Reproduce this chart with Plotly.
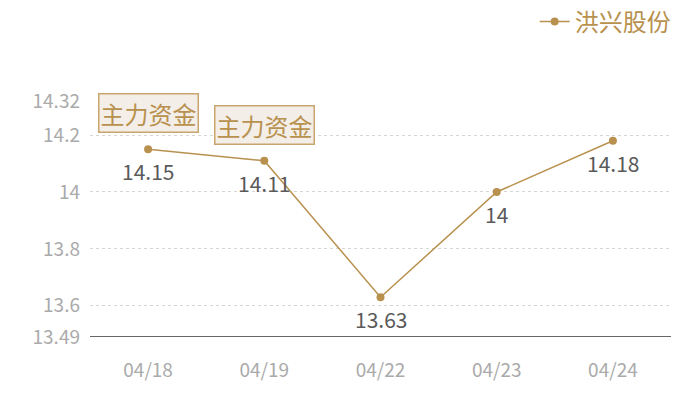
import plotly.graph_objects as go

dates = ["04/18", "04/19", "04/22", "04/23", "04/24"]
prices = [14.15, 14.11, 13.63, 14.00, 14.18]
price_labels = ["14.15", "14.11", "13.63", "14", "14.18"]
y_ticks = [13.49, 13.6, 13.8, 14.0, 14.2, 14.32]
y_tick_text = ["13.49", "13.6", "13.8", "14", "14.2", "14.32"]
flag_dates = ["04/18", "04/19"]
flag_prices = [14.15, 14.11]
flag_text = "主力资金"

gold = "#b8914f"
font = "Noto Sans CJK SC"

fig = go.Figure()
fig.add_trace(go.Scatter(
    x=dates, y=prices, name="洪兴股份",
    mode="lines+markers",
    line=dict(color=gold, width=1.5),
    marker=dict(color=gold, size=8),
))

# value labels under each point
for d, p, t in zip(dates, prices, price_labels):
    fig.add_annotation(x=d, y=p, text=t, showarrow=False, yshift=-22,
                       font=dict(color="#5a5a5a", size=21, family=font))

# "主力资金" flags
for d, p in zip(flag_dates, flag_prices):
    fig.add_annotation(
        x=d, y=p, text=flag_text, showarrow=False,
        yanchor="bottom", yshift=16,
        font=dict(color="#b8914f", size=24, family=font),
        bgcolor="#f3eee7", bordercolor="#c9a66e", borderwidth=1.5, borderpad=1,
    )

fig.update_layout(
    width=700, height=400,
    margin=dict(l=90, r=29, t=101, b=63, autoexpand=False),
    plot_bgcolor="white", paper_bgcolor="white",
    font=dict(family=font),
    showlegend=True,
    legend=dict(orientation="h", x=1.008, xanchor="right", y=1.43, yanchor="top",
                font=dict(color=gold, size=24, family=font),
                itemwidth=30, bgcolor="rgba(0,0,0,0)"),
    xaxis=dict(type="category", range=[-0.5, 4.5], showgrid=False, showline=False,
               zeroline=False, ticks="", ticklabelstandoff=20,
               tickfont=dict(color="#aaaaaa", size=19, family=font)),
    yaxis=dict(range=[13.49, 14.32], tickvals=y_ticks, ticktext=y_tick_text,
               showgrid=True, gridcolor="#d6d6d6", griddash="dot", gridwidth=1,
               zeroline=False, showline=False, ticks="", ticklabelstandoff=9,
               tickfont=dict(color="#aaaaaa", size=19, family=font)),
)
fig.add_shape(type="line", xref="paper", yref="y", x0=0, x1=1, y0=13.49, y1=13.49,
              line=dict(color="#333333", width=1.3))

fig.write_html("out.html", config={"displayModeBar": False},
               post_script="document.body.style.margin='0';")
